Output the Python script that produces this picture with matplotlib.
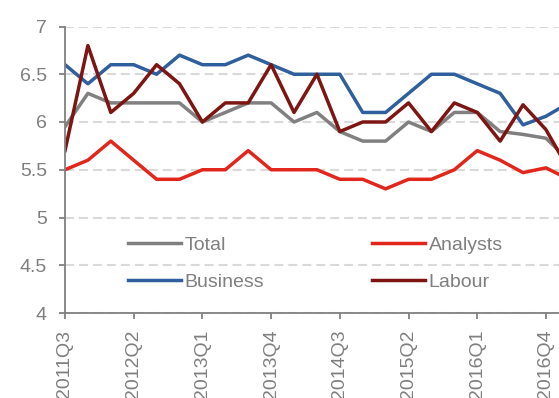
import numpy as np
import matplotlib
matplotlib.use('Agg')
import matplotlib.pyplot as plt

# quarters 2011Q3 .. 2017Q1
quarters = ['2011Q3', '2011Q4', '2012Q1', '2012Q2', '2012Q3', '2012Q4',
            '2013Q1', '2013Q2', '2013Q3', '2013Q4', '2014Q1', '2014Q2',
            '2014Q3', '2014Q4', '2015Q1', '2015Q2', '2015Q3', '2015Q4',
            '2016Q1', '2016Q2', '2016Q3', '2016Q4', '2017Q1']

total = [5.95, 6.3, 6.2, 6.2, 6.2, 6.2, 6.0, 6.1, 6.2, 6.2, 6.0, 6.1,
         5.9, 5.8, 5.8, 6.0, 5.9, 6.1, 6.1, 5.9, 5.87, 5.83, 5.6]
analysts = [5.5, 5.6, 5.8, 5.6, 5.4, 5.4, 5.5, 5.5, 5.7, 5.5, 5.5, 5.5,
            5.4, 5.4, 5.3, 5.4, 5.4, 5.5, 5.7, 5.6, 5.47, 5.52, 5.4]
business = [6.6, 6.4, 6.6, 6.6, 6.5, 6.7, 6.6, 6.6, 6.7, 6.6, 6.5, 6.5,
            6.5, 6.1, 6.1, 6.3, 6.5, 6.5, 6.4, 6.3, 5.97, 6.06, 6.2]
labour = [5.7, 6.8, 6.1, 6.3, 6.6, 6.4, 6.0, 6.2, 6.2, 6.6, 6.1, 6.5,
          5.9, 6.0, 6.0, 6.2, 5.9, 6.2, 6.1, 5.8, 6.18, 5.92, 5.5]

plt.rcParams['font.family'] = ['Liberation Sans', 'DejaVu Sans']
grey_txt = '#7f7f7f'

fig = plt.figure(figsize=(5.59, 3.98), dpi=100)
ax = fig.add_axes([65 / 559, 1 - 313 / 398, (559 - 65) / 559, (313 - 26.5) / 398])

x = np.arange(len(quarters))
lw = 2.5
l_tot, = ax.plot(x, total, color='#808080', lw=lw, label='Total')
l_ana, = ax.plot(x, analysts, color='#e2261c', lw=lw, label='Analysts')
l_bus, = ax.plot(x, business, color='#2f5f9d', lw=lw, label='Business')
l_lab, = ax.plot(x, labour, color='#7d1512', lw=lw, label='Labour')

ax.set_ylim(4, 7)
ax.set_xlim(0, 21.57)
ax.set_yticks([4, 4.5, 5, 5.5, 6, 6.5, 7])
ax.set_yticklabels(['4', '4.5', '5', '5.5', '6', '6.5', '7'])
ax.set_xticks(x[::3])
ax.set_xticklabels(quarters[::3], rotation=90)

ax.yaxis.grid(True, color='#d9d9d9', lw=1.5, linestyle=(0, (4.3, 2.4)))
ax.set_axisbelow(True)
for s in ['top', 'right']:
    ax.spines[s].set_visible(False)
for s in ['left', 'bottom']:
    ax.spines[s].set_color('#808080')
    ax.spines[s].set_linewidth(1.3)
ax.tick_params(axis='both', colors='#808080', labelcolor=grey_txt,
               labelsize=14, length=4, width=1.3)
ax.tick_params(axis='y', pad=9)
ax.tick_params(axis='x', pad=8)

# legend rows: Total / Analysts, then Business / Labour
ax.legend([l_tot, l_bus, l_ana, l_lab], ['Total', 'Business', 'Analysts', 'Labour'],
          ncol=2, frameon=False, loc='upper left',
          bbox_to_anchor=(0.093, 0.328), fontsize=14, labelcolor=grey_txt,
          handlelength=2.7, handletextpad=0.2, columnspacing=5.55,
          labelspacing=1.0)

plt.savefig('out.png', dpi=100)
